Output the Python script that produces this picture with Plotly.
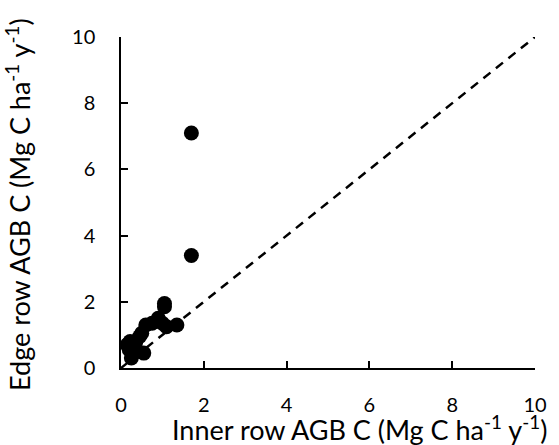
import plotly.graph_objects as go

# Annual above-ground biomass carbon increment per plot (Mg C ha-1 y-1)
inner_row = [0.15, 0.22, 0.25, 0.30, 0.20, 0.35, 0.45, 0.50, 0.55, 0.60,
             0.75, 0.90, 1.00, 1.05, 1.05, 1.10, 1.35, 1.70, 1.70]
edge_row = [0.70, 0.80, 0.30, 0.45, 0.55, 0.75, 0.95, 1.05, 0.45, 1.30,
            1.35, 1.50, 1.35, 1.85, 1.95, 1.25, 1.30, 3.40, 7.10]

# 1:1 reference line
one_to_one = [0, 10]

tick_vals = [0, 2, 4, 6, 8, 10]
tick_text = ["0", "2", "4", "6", "8", "10"]

FONT = "Lato, 'Open Sans', sans-serif"

fig = go.Figure()
fig.add_trace(go.Scatter(
    x=one_to_one, y=one_to_one, mode="lines",
    line=dict(color="black", width=2.5, dash="9px,7px"),
    hoverinfo="skip", showlegend=False,
))
fig.add_trace(go.Scatter(
    x=inner_row, y=edge_row, mode="markers",
    marker=dict(color="black", size=15, line=dict(width=0)),
    showlegend=False,
))

axis_common = dict(
    range=[0, 10], tickvals=tick_vals, ticktext=tick_text,
    showgrid=False, zeroline=False,
    showline=True, linecolor="black", linewidth=1.5,
    ticks="inside", ticklen=7, tickwidth=1.5, tickcolor="black",
    tickfont=dict(family=FONT, size=20, color="black"),
)

fig.update_layout(
    width=559, height=445,
    margin=dict(l=121, r=17, t=37, b=77),
    paper_bgcolor="white", plot_bgcolor="white",
    xaxis=dict(**axis_common, ticklabelstandoff=18),
    yaxis=dict(**axis_common, ticklabelstandoff=20),
    annotations=[
        dict(text="Inner row AGB C (Mg C ha<sup>-1</sup> y<sup>-1</sup>)",
             xref="paper", yref="paper", x=(364 - 121) / 421, y=-60 / 331.5,
             xanchor="center", yanchor="middle", showarrow=False,
             font=dict(family=FONT, size=27, color="black")),
        dict(text="Edge row AGB C (Mg C ha<sup>-1</sup> y<sup>-1</sup>)",
             xref="paper", yref="paper", x=-105 / 421, y=0.495,
             xanchor="center", yanchor="middle", textangle=-90, showarrow=False,
             font=dict(family=FONT, size=27, color="black")),
    ],
)

fig.write_html("out.html")
